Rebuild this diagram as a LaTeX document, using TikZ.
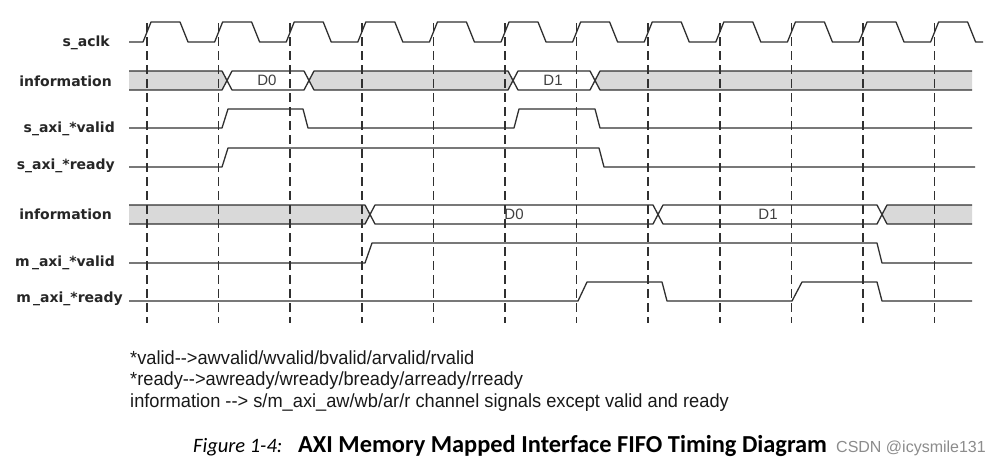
\documentclass[tikz,border=0pt]{standalone}
\usepackage{fontspec}
\usepackage{xcolor}
\usepackage{tikz}
\usetikzlibrary{positioning}

\newfontfamily\lblfont{DejaVu Sans}
\newfontfamily\datafont{Liberation Sans}
\newfontfamily\notefont[FakeStretch=0.96]{Liberation Sans}
\newfontfamily\capfont{Carlito}

\definecolor{busgray}{HTML}{D9D9D9}
\definecolor{wire}{HTML}{303030}
\definecolor{wmgray}{HTML}{8C8C8C}

\begin{document}
\begin{tikzpicture}[x=1pt,y=-1pt,
  wire/.style={draw=wire,line width=1.3pt,line join=round},
  tick/.style={draw=wire,line width=1.5pt,dash pattern=on 9pt off 5pt},
  busfill/.style={fill=busgray},
  sig/.style={anchor=base east,inner sep=0pt,text=black!85,
    font=\lblfont\bfseries\fontsize{14}{16}\selectfont},
  data/.style={inner sep=0pt,text=black!75,font=\datafont\fontsize{15}{17}\selectfont},
  note/.style={anchor=base west,inner sep=0pt,text=black!90,font=\notefont\fontsize{19}{21}\selectfont}]
\useasboundingbox[fill=white] (0,0) rectangle (1003,466);

% signal names
\node[sig] (clk)    at (110,46.7) {s\_aclk};
\node[sig] (sinfo)  at (112,86)   {information};
\node[sig] (svalid) at (115,132)  {s\_axi\_*valid};
\node[sig] (sready) at (115,169)  {s\_axi\_*ready};
\node[sig] (minfo)  at (112,219)  {information};
\node[sig] (mvalid) at (115,266)  {m\,\_axi\_*valid};
\node[sig] (mready) at (123,302)  {m\,\_axi\_*ready};

% bus fills
\fill[busgray] (129,71) -- (222,71) -- (227,80.5) -- (222,90) -- (129,90) -- cycle;
\fill[busgray] (309,80.5) -- (314,71) -- (508,71) -- (513,80.5) -- (508,90) -- (314,90) -- cycle;
\fill[busgray] (595,80.5) -- (600,71) -- (972,71) -- (972,90) -- (600,90) -- cycle;
\fill[busgray] (129,205) -- (365,205) -- (370,214.5) -- (365,224) -- (129,224) -- cycle;
\fill[busgray] (882,214.5) -- (887,205) -- (972,205) -- (972,224) -- (887,224) -- cycle;

% clock edges
\foreach \k in {0,...,11}
  \draw[tick] ({147+71.6*\k},23) -- ({147+71.6*\k},323);

% clock
\draw[wire] (129,42) \foreach \k in {0,...,11}{
  -- ({143+71.6*\k},42) -- ({151+71.6*\k},22) -- ({180+71.6*\k},22) -- ({188+71.6*\k},42)}
  -- (983,42);

% s side bus
\draw[wire] (129,71) -- (222,71) -- (232,90) -- (304,90) -- (314,71) -- (508,71) -- (518,90)
  -- (590,90) -- (600,71) -- (972,71);
\draw[wire] (129,90) -- (222,90) -- (232,71) -- (304,71) -- (314,90) -- (508,90) -- (518,71)
  -- (590,71) -- (600,90) -- (972,90);
\node[data] (sd0) at (267,80) {D0};
\node[data] (sd1) at (553,80) {D1};

% s side handshake
\draw[wire] (129,128) -- (222,128) -- (228,109) -- (303,109) -- (308,128) -- (514,128)
  -- (519,109) -- (595,109) -- (600,128) -- (972,128);
\draw[wire] (129,167) -- (222,167) -- (228,148) -- (599,148) -- (604,167) -- (975,167);

% m side bus
\draw[wire] (129,205) -- (365,205) -- (375,224) -- (653,224) -- (663,205) -- (877,205)
  -- (887,224) -- (972,224);
\draw[wire] (129,224) -- (365,224) -- (375,205) -- (653,205) -- (663,224) -- (877,224)
  -- (887,205) -- (972,205);
\node[data] (md0) at (514,214) {D0};
\node[data] (md1) at (768,214) {D1};

% m side handshake
\draw[wire] (129,263) -- (365,263) -- (372,243) -- (877,243) -- (882,263) -- (972,263);
\draw[wire] (129,301) -- (578,301) -- (587,282) -- (662,282) -- (667,301) -- (792,301)
  -- (802,282) -- (877,282) -- (882,301) -- (972,301);

% notes
\node[note] (n1) at (130,364) {*valid-{}->awvalid/wvalid/bvalid/arvalid/rvalid};
\node[note] (n2) at (130,385.5) {*ready-{}->awready/wready/bready/arready/rready};
\node[note] (n3) at (130,407) {information -{}-> s/m\_axi\_aw/wb/ar/r channel signals except valid and ready};

% caption
\node[anchor=base west,inner sep=0pt,font=\capfont\itshape\fontsize{20.5}{23}\selectfont]
  (fig) at (193,452) {Figure 1-4:};
\node[anchor=base west,inner sep=0pt,font=\capfont\bfseries\fontsize{24.4}{27}\selectfont]
  (cap) at (298,452) {AXI Memory Mapped Interface FIFO Timing Diagram};
\node[anchor=base west,inner sep=0pt,text=wmgray,font=\datafont\fontsize{16}{18}\selectfont]
  (wm) at (836,452) {CSDN @icysmile131};
\end{tikzpicture}
\end{document}
